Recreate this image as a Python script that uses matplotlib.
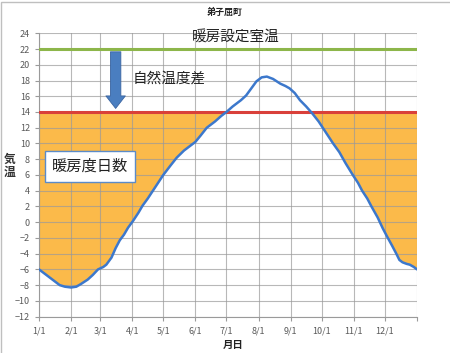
import matplotlib
matplotlib.use("Agg")
import matplotlib.pyplot as plt
import numpy as np
from matplotlib.patches import Rectangle

plt.rcParams['font.family'] = ['Noto Sans CJK JP', 'DejaVu Sans']

title = "弟子屈町"
x_label = "月日"
y_label = "気\n温"
month_labels = ["1/1", "2/1", "3/1", "4/1", "5/1", "6/1", "7/1", "8/1", "9/1", "10/1", "11/1", "12/1"]
month_days = [0, 31, 59, 90, 120, 151, 181, 212, 243, 273, 304, 334]
y_ticks = list(range(-12, 25, 2))

# temperature curve (day of year, deg C)
days = [0, 5, 11, 16, 20, 25, 31, 36, 40, 47, 52, 57, 62, 65, 70, 74, 78, 82, 86, 91,
        96, 100, 105, 110, 115, 120, 127, 133, 140, 145, 151, 156, 162, 170, 176, 181,
        187, 195, 200, 205, 210, 215, 220, 226, 233, 238, 242, 247, 252, 258, 264, 270,
        276, 284, 290, 296, 303, 308, 312, 317, 321, 327, 332, 336, 341, 345, 348, 351,
        355, 358, 362, 365]
temps = [-6.0, -6.5, -7.1, -7.6, -8.0, -8.2, -8.3, -8.2, -7.9, -7.3, -6.7, -6.0, -5.7, -5.4, -4.5, -3.3, -2.3, -1.6, -0.7, 0.2,
         1.2, 2.1, 3.0, 4.0, 5.0, 6.0, 7.2, 8.2, 9.1, 9.6, 10.2, 11.0, 12.0, 12.8, 13.5, 14.0,
         14.7, 15.5, 16.1, 17.0, 17.9, 18.4, 18.5, 18.2, 17.6, 17.3, 17.0, 16.4, 15.5, 14.7, 13.8, 12.8,
         11.6, 10.0, 8.9, 7.5, 6.0, 5.0, 4.0, 3.0, 2.0, 0.6, -0.8, -1.8, -3.0, -4.0, -4.8, -5.1,
         -5.3, -5.4, -5.7, -6.0]

setpoint = 22
base_temp = 14
arrow_day = 74

days = np.array(days, dtype=float)
temps = np.array(temps, dtype=float)

fig = plt.figure(figsize=(4.5, 3.53), dpi=100)
ax = fig.add_axes([39/450, 1-316.6/353, (417-39)/450, (316.6-33.3)/353])

ax.fill_between(days, temps, base_temp, where=temps < base_temp, interpolate=True,
                color='#FBBA4A', linewidth=0, zorder=1)
ax.axhline(setpoint, color='#8DB64A', lw=2.2, zorder=3)
ax.axhline(base_temp, color='#D9403A', lw=2.2, zorder=3)
ax.plot(days, temps, color='#3C78CC', lw=1.8, zorder=4, solid_capstyle='round')

ax.set_xlim(0, 365)
ax.set_ylim(-12, 24)
ax.set_yticks(y_ticks)
ax.set_xticks(month_days + [365])
ax.set_xticklabels(month_labels + [""])
ax.grid(True, color='#9A9A9A', lw=0.8, alpha=0.7, zorder=2)
ax.set_axisbelow(False)
for s in ax.spines.values():
    s.set_visible(False)
ax.spines['left'].set_visible(True)
ax.spines['left'].set_color('#9A9A9A')
ax.spines['bottom'].set_visible(True)
ax.spines['bottom'].set_color('#9A9A9A')
ax.tick_params(axis='both', labelsize=6.5, colors='#595959', length=3, width=0.8, color='#9A9A9A')
ax.tick_params(axis='x', pad=4)

# arrow
ax.annotate('', xy=(arrow_day, base_temp + 0.1), xytext=(arrow_day, setpoint),
            arrowprops=dict(arrowstyle='simple,head_length=0.9,head_width=1.4,tail_width=0.75',
                            fc='#4A7EC0', ec='#3A64A0', lw=0.6), zorder=5)

ax.text(190, 23.5, "暖房設定室温", fontsize=10.5, ha='center', va='center', color='#222222', zorder=6)
ax.text(90, 18.3, "自然温度差", fontsize=10.5, ha='left', va='center', color='#222222', zorder=6)
ax.text(49, 7.1, "暖房度日数", fontsize=11, ha='center', va='center', color='#222222', zorder=6,
        bbox=dict(boxstyle='square,pad=0.45', fc='white', ec='#5B8BC8', lw=1.0))

fig.text(0.5, 1-12/353, title, fontsize=6.5, ha='center', va='center', fontweight='bold', color='#222222')
fig.text(233/450, 1-345/353, x_label, fontsize=7.5, ha='center', va='center', fontweight='bold', color='#222222')
fig.text(10/450, 1-166/353, y_label, fontsize=8.5, ha='center', va='center', fontweight='bold', color='#333333', linespacing=1.05)

fig.patches.append(Rectangle((1/450, -0.01), 1.1, 1-1.5/353+0.01, transform=fig.transFigure,
                             fill=False, ec='#BFBFBF', lw=1.0))

fig.savefig('out.png', dpi=100)
